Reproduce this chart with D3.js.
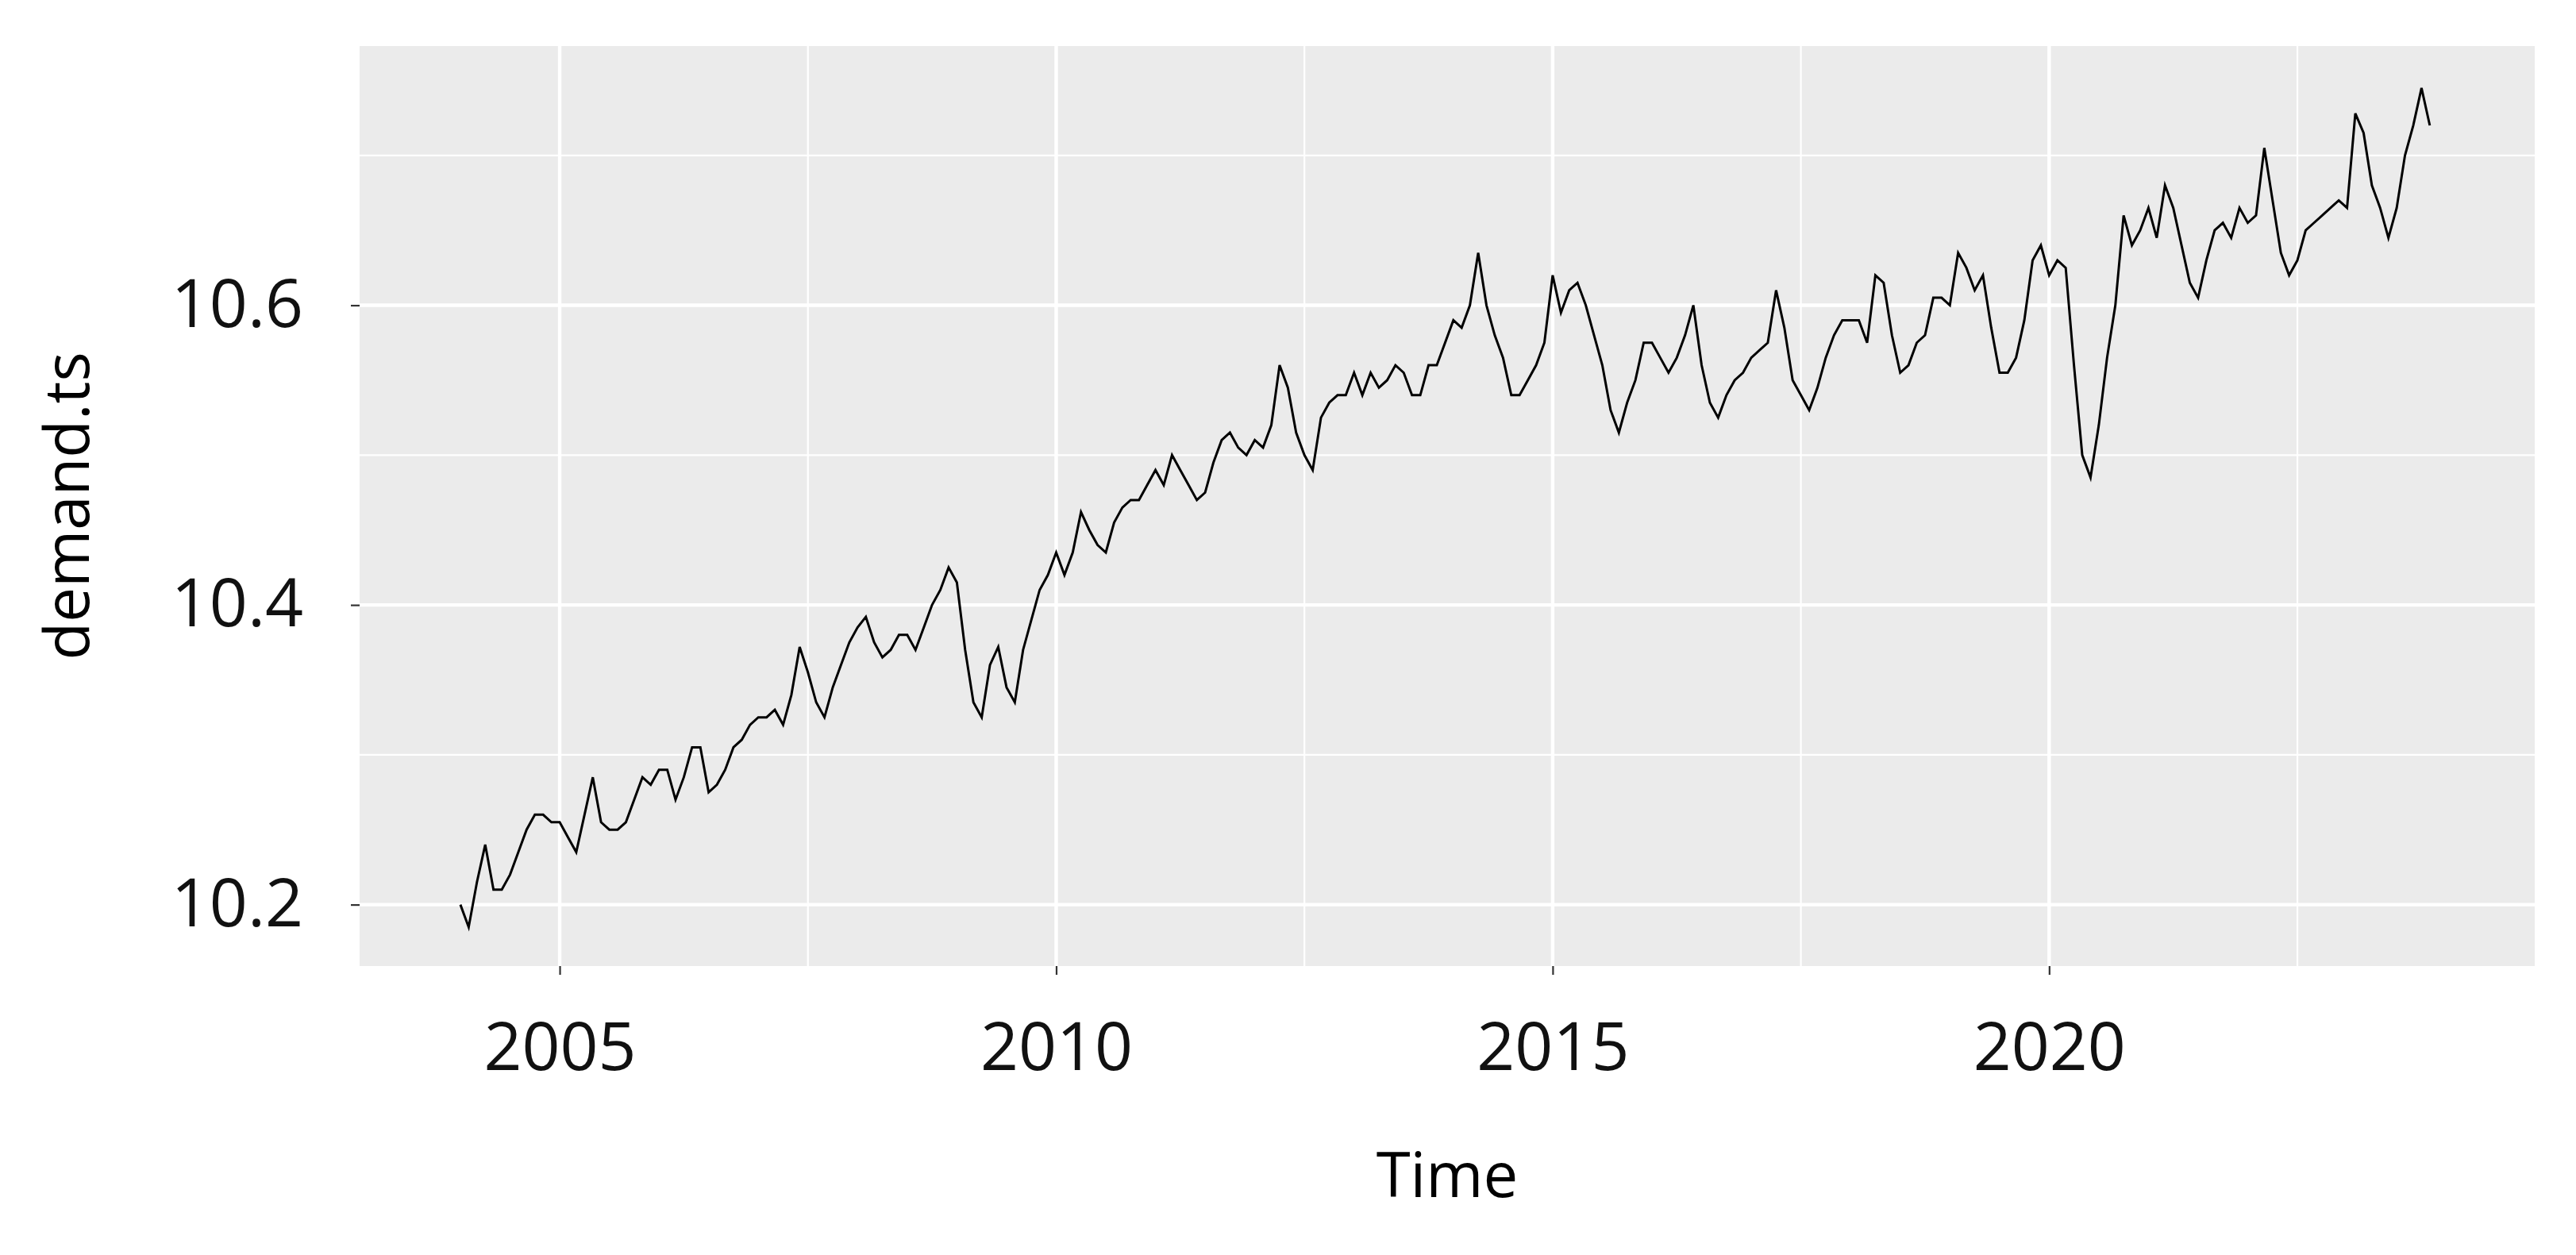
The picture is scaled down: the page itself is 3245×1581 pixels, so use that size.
<!DOCTYPE html>
<html><head><meta charset="utf-8">
<script src="https://cdn.jsdelivr.net/npm/d3@7"></script>
<style>body{margin:0;background:#fff}text{font-family:"Open Sans","Noto Sans",sans-serif}</style>
</head><body><svg id="c" width="3245" height="1581"></svg>
<script>
const startYear = 2004;
const demand = [
10.20,10.185,10.215,10.24,10.21,10.21,10.22,10.235,10.25,10.26,10.26,10.255,
10.255,10.245,10.235,10.26,10.285,10.255,10.25,10.25,10.255,10.27,10.285,10.28,
10.29,10.29,10.27,10.285,10.305,10.305,10.275,10.28,10.29,10.305,10.31,10.32,
10.325,10.325,10.33,10.32,10.34,10.372,10.355,10.335,10.325,10.345,10.36,10.375,
10.385,10.392,10.375,10.365,10.37,10.38,10.38,10.37,10.385,10.40,10.41,10.425,
10.415,10.37,10.335,10.325,10.36,10.372,10.345,10.335,10.37,10.39,10.41,10.42,
10.435,10.42,10.435,10.462,10.45,10.44,10.435,10.455,10.465,10.47,10.47,10.48,
10.49,10.48,10.50,10.49,10.48,10.47,10.475,10.495,10.51,10.515,10.505,10.50,
10.51,10.505,10.52,10.56,10.545,10.515,10.50,10.49,10.525,10.535,10.54,10.54,
10.555,10.54,10.555,10.545,10.55,10.56,10.555,10.54,10.54,10.56,10.56,10.575,
10.59,10.585,10.60,10.635,10.60,10.58,10.565,10.54,10.54,10.55,10.56,10.575,
10.62,10.595,10.61,10.615,10.60,10.58,10.56,10.53,10.515,10.535,10.55,10.575,
10.575,10.565,10.555,10.565,10.58,10.60,10.56,10.535,10.525,10.54,10.55,10.555,
10.565,10.57,10.575,10.61,10.585,10.55,10.54,10.53,10.545,10.565,10.58,10.59,
10.59,10.59,10.575,10.62,10.615,10.58,10.555,10.56,10.575,10.58,10.605,10.605,
10.60,10.635,10.625,10.61,10.62,10.585,10.555,10.555,10.565,10.59,10.63,10.64,
10.62,10.63,10.625,10.56,10.50,10.485,10.52,10.565,10.60,10.66,10.64,10.65,
10.665,10.645,10.68,10.665,10.64,10.615,10.605,10.63,10.65,10.655,10.645,10.665,
10.655,10.66,10.705,10.67,10.635,10.62,10.63,10.65,10.655,10.66,10.665,10.67,
10.665,10.728,10.715,10.68,10.665,10.645,10.665,10.70,10.72,10.745,10.72];
const xTicks = [2005,2010,2015,2020];
const yTicks = [10.2,10.4,10.6];
const pts = demand.map((v,i)=>({t:startYear+i/12,v}));

const svg=d3.select("#c");
const L=453,R=3193,T=58,B=1217;
const x=d3.scaleLinear().domain([2002.985,2024.89]).range([L,R]);
const y=d3.scaleLinear().domain([10.159,10.773]).range([B,T]);
svg.append("rect").attr("x",L).attr("y",T).attr("width",R-L).attr("height",B-T).attr("fill","#EBEBEB");
const g=svg.append("g");
const xMinor=[2002.5,2007.5,2012.5,2017.5,2022.5].filter(d=>x(d)>L);
const yMinor=[10.3,10.5,10.7];
xMinor.forEach(d=>g.append("line").attr("x1",x(d)).attr("x2",x(d)).attr("y1",T).attr("y2",B).attr("stroke","#fff").attr("stroke-width",2.2));
yMinor.forEach(d=>g.append("line").attr("x1",L).attr("x2",R).attr("y1",y(d)).attr("y2",y(d)).attr("stroke","#fff").attr("stroke-width",2.2));
xTicks.forEach(d=>g.append("line").attr("x1",x(d)).attr("x2",x(d)).attr("y1",T).attr("y2",B).attr("stroke","#fff").attr("stroke-width",4.4));
yTicks.forEach(d=>g.append("line").attr("x1",L).attr("x2",R).attr("y1",y(d)).attr("y2",y(d)).attr("stroke","#fff").attr("stroke-width",4.4));
svg.append("path").datum(pts).attr("fill","none").attr("stroke","#000").attr("stroke-width",3)
 .attr("d",d3.line().x(d=>x(d.t)).y(d=>y(d.v)));
const xa=svg.append("g").attr("transform",`translate(0,${B})`).call(d3.axisBottom(x).tickValues(xTicks).tickFormat(d3.format("d")).tickSize(11).tickPadding(60));
const ya=svg.append("g").attr("transform",`translate(${L},0)`).call(d3.axisLeft(y).tickValues(yTicks).tickFormat(d3.format(".1f")).tickSize(11).tickPadding(60));
[xa,ya].forEach(a=>{a.select(".domain").remove();a.selectAll("line").attr("stroke","#333").attr("stroke-width",2.2);a.selectAll("text").attr("font-size",84).attr("fill","#111").attr("font-family","'Open Sans',sans-serif");});
svg.append("text").attr("x",(L+R)/2).attr("y",1508).attr("text-anchor","middle").attr("font-size",78).text("Time");
svg.append("text").attr("transform",`translate(112,${(T+B)/2}) rotate(-90)`).attr("text-anchor","middle").attr("font-size",78).text("demand.ts");
</script></body></html>
